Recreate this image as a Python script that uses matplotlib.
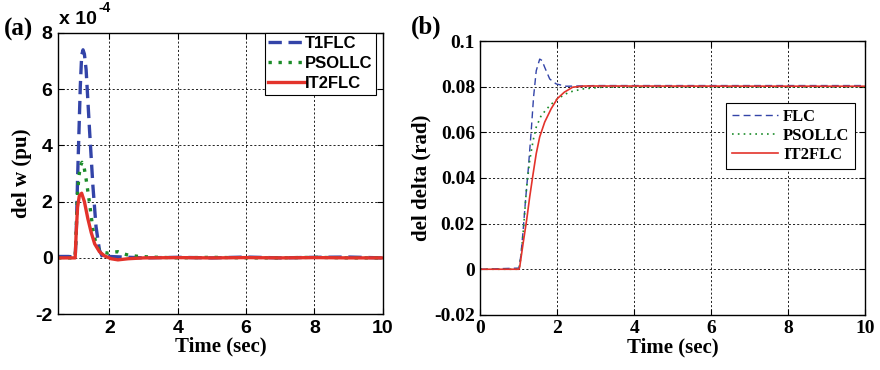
import matplotlib
matplotlib.use('Agg')
import matplotlib.pyplot as plt
from matplotlib.ticker import FormatStrFormatter

plt.rcParams['axes.unicode_minus'] = False

# (a) speed deviation, values in units of 1e-4 pu
t_t1flc = [0.5, 0.8, 1.0, 1.03, 1.07, 1.15, 1.19, 1.23, 1.27, 1.32, 1.42, 1.52, 1.61, 1.71, 1.81,
           2.0, 3, 4, 5, 6, 7, 8, 9, 10]
w_t1flc = [0.05, 0.05, 0.03, 0.8, 2.8, 6.1, 7.2, 7.4, 7.25, 6.7, 4.55, 2.54, 1.11, 0.28, 0.0,
           0.05, 0.0, 0.02, 0.0, 0.03, 0.0, 0.02, 0.03, 0.0]

t_psollc = [0.5, 1.0, 1.03, 1.07, 1.11, 1.15, 1.2, 1.25, 1.32, 1.42, 1.52, 1.61, 1.7, 1.8, 1.96,
            2.1, 2.25, 2.4, 2.55, 2.8, 3.2, 4, 5, 6, 7, 8, 9, 10]
w_psollc = [0.0, 0.0, 1.0, 2.3, 2.9, 3.25, 3.4, 3.3, 2.8, 1.95, 1.0, 0.5, 0.3, 0.2, 0.17,
            0.2, 0.22, 0.15, 0.1, 0.06, 0.03, 0.0, 0.02, 0.0, 0.0, 0.02, 0.0, 0.0]

t_it2flc = [0.5, 1.0, 1.03, 1.07, 1.12, 1.19, 1.27, 1.37, 1.47, 1.57, 1.71, 1.86, 2.05, 2.25,
            2.55, 3.0, 4, 5, 6, 7, 8, 9, 10]
w_it2flc = [0.0, 0.0, 0.9, 1.8, 2.2, 2.3, 2.0, 1.4, 0.9, 0.5, 0.22, 0.07, -0.03, -0.07,
            -0.03, 0.0, 0.01, 0.0, 0.01, 0.0, 0.01, 0.0, 0.0]

# (b) rotor angle deviation, rad
t_flc = [0, 1.0, 1.05, 1.11, 1.17, 1.24, 1.32, 1.38, 1.45, 1.54, 1.6, 1.67, 1.8, 1.97, 2.23, 3, 10]
d_flc = [0, 0.0005, 0.006, 0.0172, 0.03, 0.0433, 0.0608, 0.0754, 0.087, 0.0921, 0.0915, 0.0885,
         0.0834, 0.0812, 0.0802, 0.0805, 0.0805]

t_pso = [0, 1.0, 1.05, 1.11, 1.2, 1.28, 1.37, 1.45, 1.58, 1.8, 2.0, 2.3, 2.65, 3.17, 4, 10]
d_pso = [0, 0, 0.005, 0.0159, 0.036, 0.0477, 0.0565, 0.0623, 0.0674, 0.0717, 0.0747, 0.0776,
         0.079, 0.0798, 0.0799, 0.0799]

t_it2 = [0, 1.0, 1.02, 1.11, 1.2, 1.28, 1.37, 1.45, 1.54, 1.67, 1.84, 2.0, 2.18, 2.4, 2.7, 10]
d_it2 = [0, 0, 0.001, 0.0115, 0.0215, 0.0317, 0.042, 0.0507, 0.058, 0.0645, 0.0704, 0.0748,
         0.0776, 0.0798, 0.0803, 0.0802]

blue = '#3344a8'
green = '#1c8c2a'
red = '#e3332b'
serif = 'Liberation Serif'
sans = 'Liberation Sans'

fig = plt.figure(figsize=(8.8, 3.7), dpi=100)
ax1 = fig.add_axes([0.066, 0.151, 0.369, 0.760])
ax2 = fig.add_axes([0.546, 0.149, 0.437, 0.740])


def style_axes(ax, tickfont, size):
    ax.grid(True, color='black', linestyle=(0, (2.5, 2.5)), linewidth=0.6)
    ax.set_axisbelow(True)
    for s in ax.spines.values():
        s.set_linewidth(1.0)
    ax.tick_params(direction='in', length=4, width=0.8, top=True, right=True, pad=4)
    for lab in ax.get_xticklabels() + ax.get_yticklabels():
        lab.set_fontfamily(tickfont)
        lab.set_fontweight('bold')
        lab.set_fontsize(size)


# panel (a)
ax1.plot(t_t1flc, w_t1flc, color=blue, lw=2.4, ls=(0, (4, 2)), label='T1FLC')
ax1.plot(t_psollc, w_psollc, color=green, lw=2.4, ls=(0, (1, 2)), label='PSOLLC')
ax1.plot(t_it2flc, w_it2flc, color=red, lw=2.4, label='IT2FLC')
ax1.set_xlim(0.5, 10)
ax1.set_ylim(-2, 8)
ax1.set_xticks([2, 4, 6, 8, 10])
ax1.set_yticks([-2, 0, 2, 4, 6, 8])
style_axes(ax1, sans, 14)
ax1.set_xlabel('Time (sec)', fontfamily=serif, fontweight='bold', fontsize=15, labelpad=0)
ax1.set_ylabel('del w (pu)', fontfamily=serif, fontweight='bold', fontsize=15, labelpad=2)
leg1 = ax1.legend(loc='upper right', bbox_to_anchor=(0.978, 1.0),
                  prop={'family': sans, 'weight': 'bold', 'size': 12},
                  handlelength=2.2, handletextpad=0.0, labelspacing=0.3, borderpad=0.2,
                  borderaxespad=0.0, fancybox=False, framealpha=1, edgecolor='black')
leg1.get_frame().set_linewidth(0.8)

# panel (b)
ax2.plot(t_flc, d_flc, color=blue, lw=1.0, ls=(0, (5, 3)), label='FLC')
ax2.plot(t_pso, d_pso, color=green, lw=1.2, ls=(0, (1, 2.5)), label='PSOLLC')
ax2.plot(t_it2, d_it2, color=red, lw=1.2, label='IT2FLC')
ax2.set_xlim(0, 10)
ax2.set_ylim(-0.02, 0.1)
ax2.set_xticks([0, 2, 4, 6, 8, 10])
ax2.set_yticks([-0.02, 0, 0.02, 0.04, 0.06, 0.08, 0.1])
ax2.yaxis.set_major_formatter(FormatStrFormatter('%g'))
style_axes(ax2, serif, 14)
ax2.set_xlabel('Time (sec)', fontfamily=serif, fontweight='bold', fontsize=15, labelpad=0)
ax2.set_ylabel('del delta (rad)', fontfamily=serif, fontweight='bold', fontsize=15, labelpad=2)
leg2 = ax2.legend(loc='upper right', bbox_to_anchor=(0.975, 0.775),
                  prop={'family': serif, 'weight': 'bold', 'size': 12},
                  handlelength=2.8, handletextpad=0.3, labelspacing=0.2, borderpad=0.35,
                  borderaxespad=0.0, fancybox=False, framealpha=1, edgecolor='black')
leg2.get_frame().set_linewidth(0.8)

# panel tags and exponent
fig.text(0.004, 0.905, '(a)', fontfamily=serif, fontweight='bold', fontsize=18)
fig.text(0.467, 0.91, '(b)', fontfamily=serif, fontweight='bold', fontsize=18)
fig.text(0.067, 0.935, 'x 10', fontfamily=sans, fontweight='bold', fontsize=14)
fig.text(0.112, 0.968, '-4', fontfamily=sans, fontweight='bold', fontsize=10)

fig.savefig('out.png', dpi=100)
